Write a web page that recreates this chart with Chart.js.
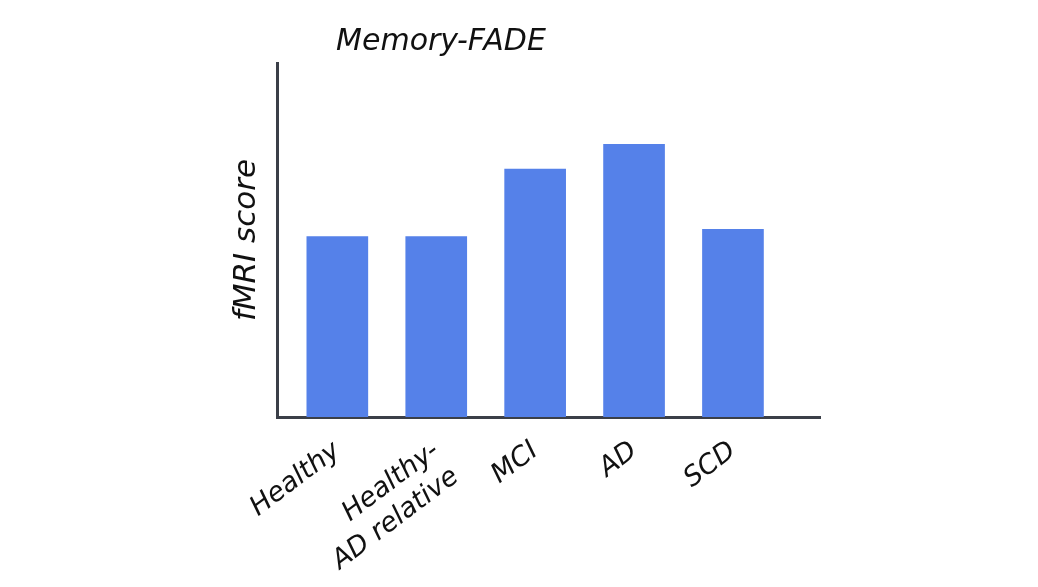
<!DOCTYPE html>
<html>
<head>
<meta charset="utf-8">
<script src="https://cdn.jsdelivr.net/npm/chart.js@4.4.0/dist/chart.umd.min.js"></script>
<style>
  html, body { margin: 0; padding: 0; background: #ffffff; }
  #wrap { width: 1038px; height: 587px; }
</style>
</head>
<body>
<div id="wrap"><canvas id="chart"></canvas></div>
<script>
// --- Data ---
const groups = [['Healthy'], ['Healthy-', 'AD relative'], ['MCI'], ['AD'], ['SCD']];
const groupIndex = [0, 1, 2, 3, 4];
const fmriScore = [5.1, 5.1, 7.0, 7.7, 5.3];
const scoreMax = 10;

const FONT = '"DejaVu Sans", "Liberation Sans", sans-serif';
const INK = '#111111';
const AXIS = '#3b3f48';

const points = groupIndex.map((x, i) => ({ x: x, y: fmriScore[i] }));

new Chart(document.getElementById('chart').getContext('2d'), {
    type: 'bar',
    data: {
        datasets: [{
            label: 'fMRI score',
            data: points,
            backgroundColor: '#5581e9',
            borderWidth: 0,
            barThickness: 61
        }]
    },
    options: {
        responsive: true,
        maintainAspectRatio: false,
        animation: false,
        layout: { padding: { left: 62, right: 218, top: 0, bottom: 0 } },
        plugins: {
            legend: { display: false },
            tooltip: { enabled: false },
            title: {
                display: true,
                text: 'Memory-FADE',
                color: INK,
                font: { family: FONT, size: 30, style: 'italic', weight: 'normal' },
                padding: { top: 24, bottom: 3 }
            }
        },
        scales: {
            x: {
                type: 'linear',
                offset: false,
                bounds: 'data',
                min: -0.61,
                max: 4.88,
                grid: { display: false, drawTicks: false },
                border: { display: true, color: AXIS, width: 3 },
                afterBuildTicks: (scale) => {
                    scale.ticks = groupIndex.map(v => ({ value: v }));
                },
                afterFit: (scale) => { scale.height = 170; },
                ticks: {
                    autoSkip: false,
                    minRotation: 37,
                    maxRotation: 37,
                    padding: 18,
                    color: INK,
                    font: { family: FONT, size: 27, style: 'italic' },
                    callback: (value) => groups[value] || ''
                }
            },
            y: {
                min: 0,
                max: scoreMax,
                grid: { display: false, drawTicks: false },
                border: { display: true, color: AXIS, width: 3 },
                ticks: { display: false },
                afterFit: (scale) => { scale.width = 215; },
                title: {
                    display: true,
                    text: 'fMRI score',
                    color: INK,
                    font: { family: FONT, size: 31, style: 'italic' },
                    padding: { top: 166, bottom: 0 }
                }
            }
        }
    }
});
</script>
</body>
</html>
